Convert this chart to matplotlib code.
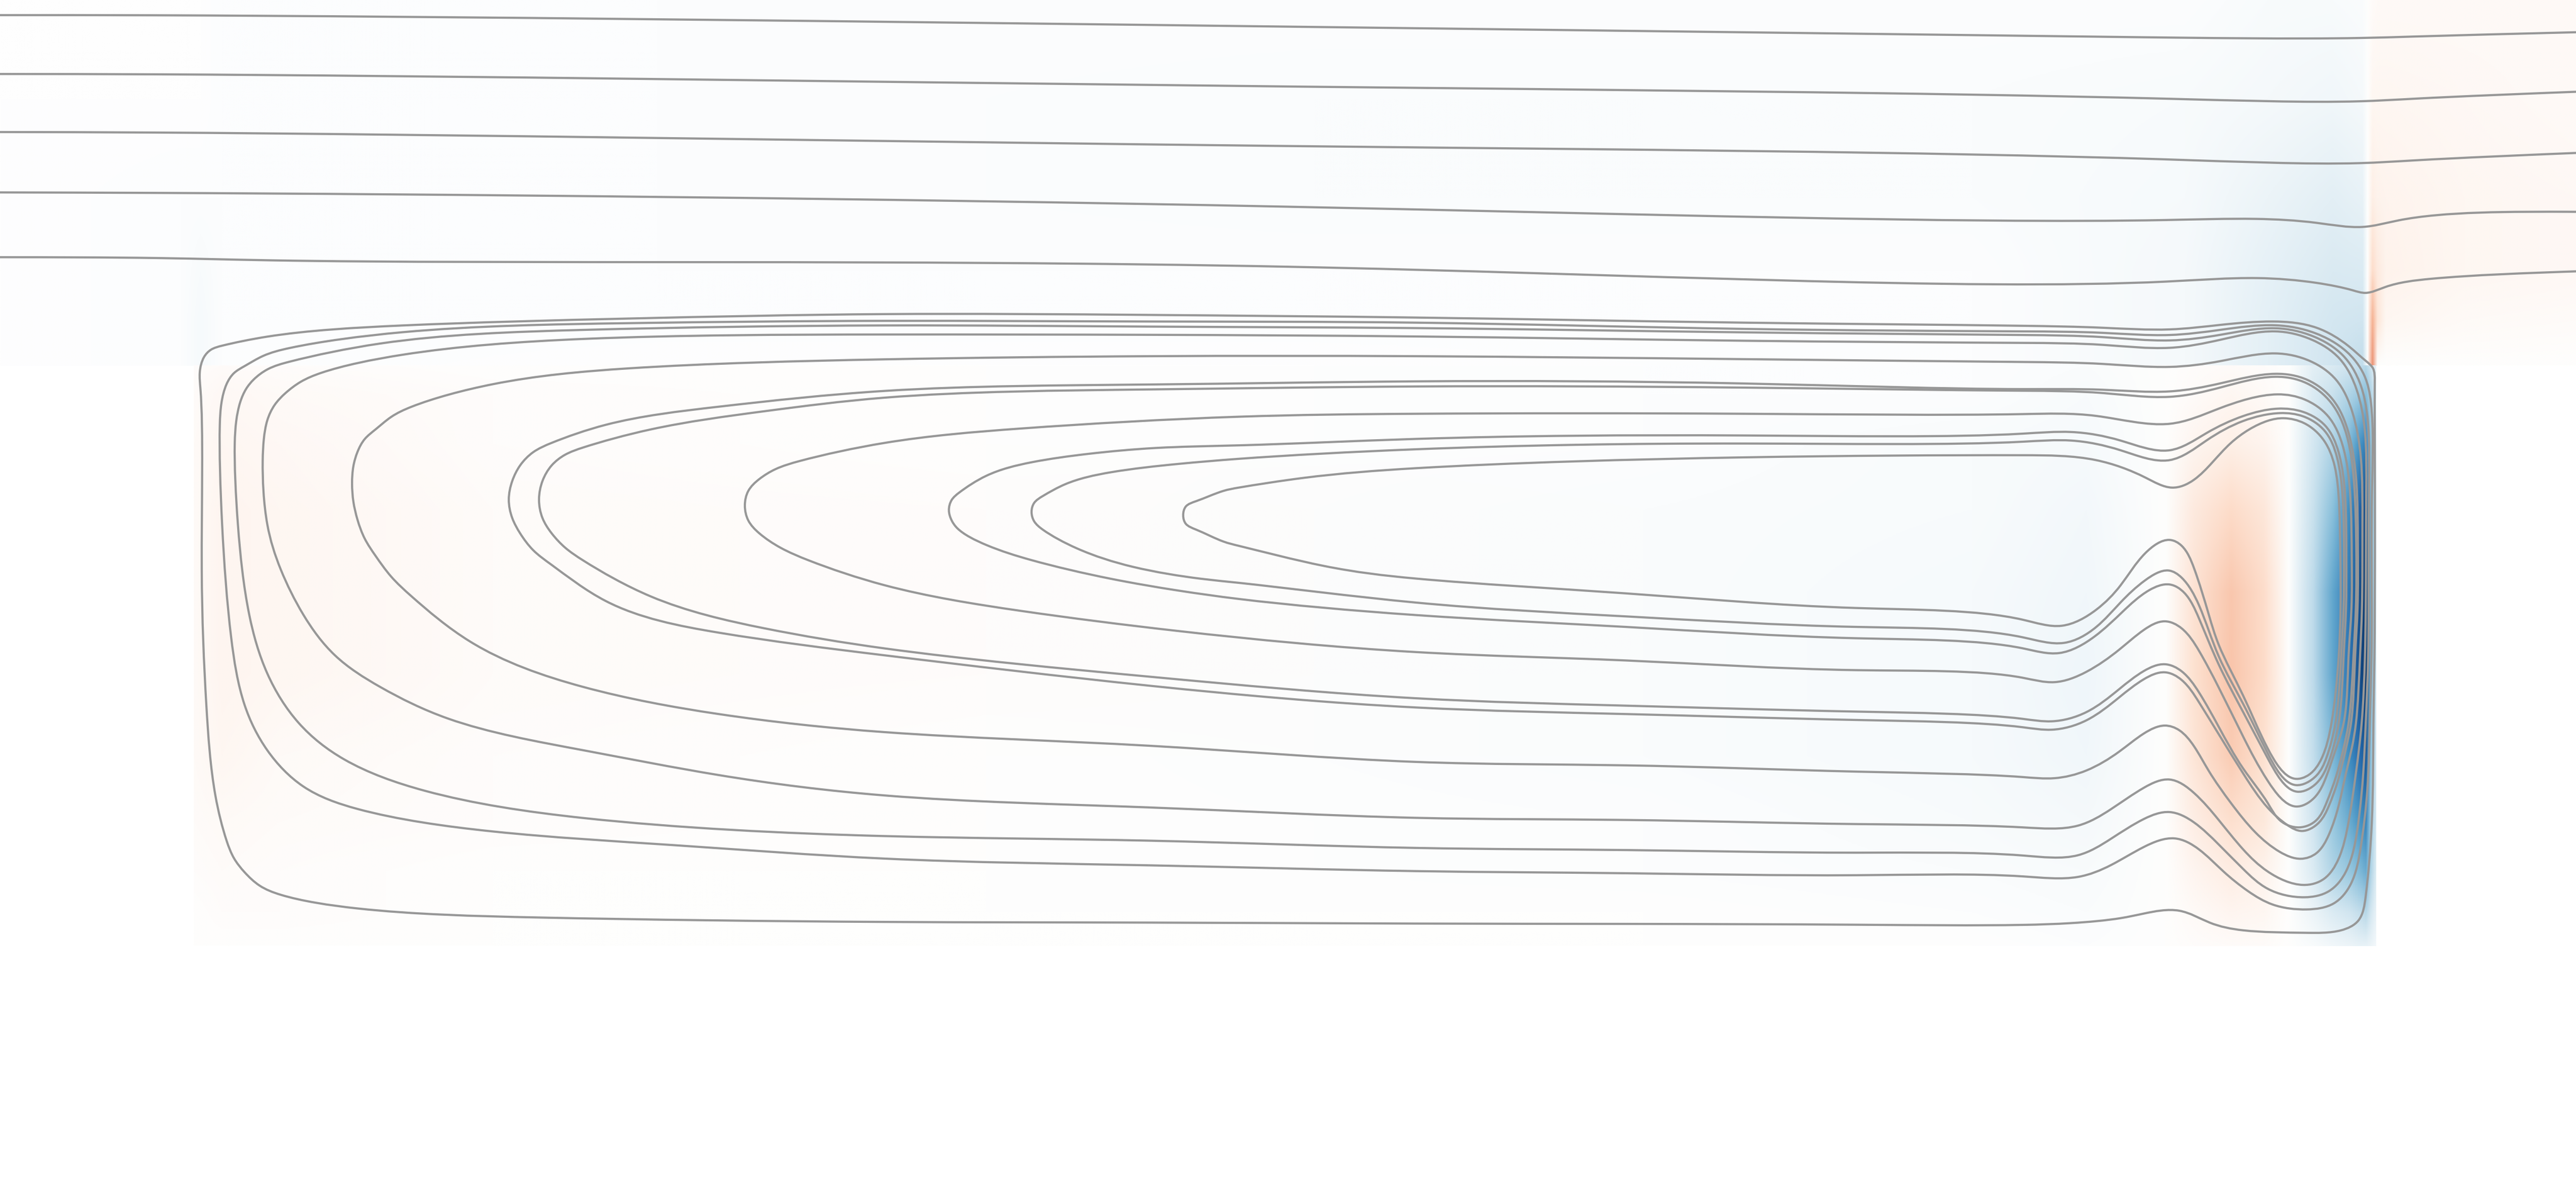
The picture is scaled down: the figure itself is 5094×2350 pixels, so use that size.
import numpy as np
import matplotlib
matplotlib.use('Agg')
import matplotlib.pyplot as plt
from matplotlib.path import Path
from matplotlib.patches import PathPatch, Rectangle
from matplotlib.colors import LinearSegmentedColormap, Normalize
from matplotlib.image import NonUniformImage

# 流线：上方通道 (x, 深度 y)，单位为图面坐标，y 向下
channel_1 = [(0, 9.2), (95, 9.3), (784, 16.2), (1284, 22.4), (1436, 23.1), (1470, 22.2), (1568, 19.6)]
channel_2 = [(0, 45.0), (95, 45.2), (784, 52.6), (1318, 60.0), (1436, 61.6), (1470, 60.0), (1568, 55.8)]
channel_3 = [(0, 80.3), (95, 80.6), (784, 88.8), (1318, 96.9), (1436, 99.2), (1470, 97.5), (1568, 93.0)]
channel_4 = [(0, 117.0), (95, 117.3), (784, 125.7), (1318, 133.8), (1373, 133.1), (1410, 135.5),
             (1438, 138.0), (1460, 134.0), (1568, 128.8)]
channel_5 = [(0, 156.4), (95, 156.9), (165, 158.3), (784, 162.2), (1319, 171.2), (1374, 169.1),
             (1410, 172.0), (1432, 176.5), (1440, 178.1), (1452, 174.5), (1480, 169.5), (1568, 165.0)]

# 空腔内闭合流线（由外到内）
loop_01 = [(122.0, 236.3), (121.6, 226.5), (124.2, 217.1), (128.5, 212.6), (135.2, 210.2), (162.7, 204.7),
           (245.1, 197.9), (382.5, 193.7), (538.6, 191.0), (700, 191.5), (862, 193.1), (1062, 196.2),
           (1231.1, 198.1), (1280, 199.3), (1320.6, 200.3), (1352, 197.5), (1383.3, 195.5),
           (1410.1, 199.3), (1429.5, 210.4), (1440.0, 219.4), (1444.4, 223.9), (1445.5, 232),
           (1445.6, 300), (1445.5, 370), (1445.3, 400), (1444.7, 440), (1443.7, 500.1), (1440.0, 544.9),
           (1435.5, 559.8), (1425.0, 565.7), (1402.7, 567.2), (1365.4, 565.7), (1345, 561),
           (1326.6, 553.8), (1305, 555.5), (1290.8, 558.3), (1260.9, 561.3), (1231.1, 562.4),
           (1130, 562.3), (990, 561.8), (862, 561.6), (700, 561.0), (538.6, 560.6), (327.5, 557.9),
           (217.6, 552.4), (170.9, 544.1), (158, 538.5), (148.9, 530.4), (142.5, 522), (137.9, 511.1),
           (131.1, 483.7), (125.6, 428.7), (122.8, 346.3)]
loop_02 = [(133.8, 258.3), (134.8, 245), (137.9, 233.6), (142.5, 226.8), (148.9, 222.6), (160, 216.5),
           (176.4, 211.6), (245.1, 202.0), (382.5, 196.5),
           (538.6, 195.1), (700, 195.5), (862, 196.2), (1062, 200), (1231.1, 201.5), (1280, 202.4),
           (1320.6, 203.7), (1352, 200.5), (1385, 197.8), (1409, 202.5), (1428, 213.5), (1439, 228),
           (1443.2, 245), (1443.8, 300), (1443.7, 370), (1443.5, 400), (1442.5, 440), (1441, 480),
           (1437.0, 515.0), (1431.0, 537.4), (1420.6, 549.3), (1404.2, 553.0), (1383.3, 550.0),
           (1368.4, 541.9), (1353.4, 529.9), (1338.5, 516.5), (1323.6, 509.8), (1305, 515),
           (1285, 526), (1265, 533.2), (1231.1, 532.9), (1130, 532.2), (990, 531.0), (862, 529.7),
           (700, 526.2), (538.6, 522.1), (410.0, 513.9), (300.1, 505.6), (217.6, 491.9),
           (184.6, 478.2), (162.7, 456.2), (148.9, 428.7), (140.7, 387.5), (135.2, 318.8)]
loop_03 = [(142.9, 269.3), (143.8, 256), (146.2, 244.6), (149.8, 236.5), (154.4, 230.8), (163, 224.5),
           (176.4, 219.9), (231.4, 208.9), (355.0, 200.6),
           (538.6, 197.9), (700, 198.6), (862, 199.5), (1062, 202.1), (1231.1, 203.7), (1280, 205.0),
           (1320.6, 207.0), (1352, 203.5), (1385, 199.6), (1408, 204.5), (1426, 216), (1436.5, 233),
           (1441.2, 255), (1442, 300), (1441.8, 370), (1441.5, 400), (1440, 440), (1438.5, 470),
           (1435.5, 500.1), (1428.0, 529.9), (1417.6, 541.9), (1402.7, 545.6), (1380.3, 540.4),
           (1365.4, 528.4), (1350.5, 513.5), (1335.5, 500.1), (1320.6, 493.8), (1305, 498), (1285, 510),
           (1265, 520), (1231.1, 520.2), (1130, 518.5), (990, 516.9), (862, 515.6), (700, 511.2),
           (538.6, 508.4), (355.0, 497.4), (258.8, 480.9), (209.4, 461.7), (181.9, 439.7),
           (162.7, 409.5), (151.7, 373.7), (144.8, 318.8)]
loop_04 = [(159.9, 280.3), (160.6, 267), (162.7, 255.6), (167.2, 246.2), (173.7, 239.1), (183, 232.2),
           (195.6, 226.7), (245.1, 215.7), (355.0, 206.1),
           (538.6, 203.4), (700, 203.6), (862, 204.6), (1062, 207.2), (1231.1, 208.5), (1280, 209.7),
           (1320.6, 211.5), (1352, 206.5), (1385, 201.5), (1407, 206.5), (1424, 218), (1434.5, 237),
           (1439.5, 262), (1440.3, 300), (1440, 370), (1439.5, 400), (1437.5, 440), (1434, 470.3),
           (1429.5, 500.1), (1423.5, 522.2), (1414.6, 534.4), (1401.9, 538.1), (1380.3, 529.9),
           (1365.4, 516.5), (1350.5, 498.6), (1335.5, 482.2), (1320.6, 474.0), (1305, 479), (1285, 492),
           (1265, 502), (1231.1, 503.1), (1130, 501.1), (990, 498.6), (862, 497.3), (700, 491.0),
           (538.6, 483.7), (437.5, 471.3), (355.0, 456.2), (272.6, 436.9), (231.4, 417.7),
           (203.9, 398.5), (184.6, 373.7), (170.9, 346.3), (162.7, 318.8)]
loop_05 = [(214.3, 294.0), (215.1, 283.5), (217.6, 274.8), (222, 267), (228.6, 261.1), (238, 253.6),
           (250.6, 247.3), (300.1, 233.6), (382.5, 224.0),
           (538.6, 218.5), (700, 216.6), (862, 216.6), (1062, 218.4), (1231.1, 220.1), (1280, 221.3),
           (1320.6, 223.1), (1352, 219.5), (1385, 214.9), (1406, 219.5), (1422, 231), (1432, 251),
           (1437, 278), (1438, 320), (1437.7, 370), (1436.5, 400), (1434, 440), (1431.5, 455),
           (1428, 470), (1423.5, 490), (1417.6, 507.5), (1410.1, 518.7), (1400.4, 522.2),
           (1387.7, 518.0), (1372.8, 506.1), (1357.9, 488.2), (1344.5, 468.8), (1335.5, 453.8),
           (1326.6, 444.1), (1317.6, 441.2), (1305, 446), (1290, 457), (1270, 468.5), (1250.5, 473.2),
           (1231.1, 472.5), (1130, 469.2), (990, 465.4), (862, 463.3), (700, 453.5), (538.6, 445.2),
           (437.5, 434.2), (355.0, 417.7), (286.3, 390.2), (250.6, 362.7), (238, 350.5), (228.6, 338.0),
           (222, 327.5), (217.6, 316.0), (215.1, 305)]
loop_06 = [(309.7, 303.7), (311.8, 292.5), (316.6, 283.0), (324.5, 275), (335.8, 269.3), (368.8, 258.3),
           (437.5, 247.3),
           (538.6, 237.7), (700, 233.8), (862, 231.9), (1062, 233.2), (1231.1, 236.6), (1280, 237),
           (1320.6, 238.0), (1352, 233), (1385, 227.3), (1404.5, 231), (1420, 243), (1429.5, 263),
           (1434.3, 293), (1435.2, 330), (1435, 370), (1433.5, 400), (1431, 440), (1428, 455),
           (1423, 475), (1417.6, 490), (1411.6, 500.1), (1401.2, 505.3), (1392.2, 501.6),
           (1380.3, 491.1), (1365.4, 470.3), (1350.5, 446.4), (1338.5, 427.0), (1328.1, 413.6),
           (1317.6, 408.8), (1305, 413), (1290, 424), (1270, 438), (1249, 443.7), (1231.1, 442.2),
           (1130, 437.8), (990, 434.2), (862, 430.2), (700, 417), (538.6, 398.5), (437.5, 384.7),
           (368.8, 365.5), (335.8, 343.5), (324.5, 334.5), (316.6, 324.3), (311.8, 315)]
loop_07 = [(328.1, 303.7), (330.2, 292.5), (335.8, 283.0), (344, 276.5), (355.0, 272.1), (396.2, 261.1),
           (465.0, 250.1),
           (538.6, 241.8), (700, 236.8), (862, 235.0), (1062, 235.7), (1231.1, 237.6), (1280, 239),
           (1320.6, 241.3), (1352, 235.5), (1385, 229.1), (1404, 233), (1419, 245), (1428.5, 265),
           (1433, 295), (1434.2, 330), (1434, 370), (1432.5, 400), (1429.5, 440), (1426.5, 455),
           (1422, 472), (1416.1, 488.2), (1410.1, 498.6), (1399.7, 503.1), (1388, 499), (1380.3, 488.2),
           (1365.4, 467.3), (1350.5, 441.9), (1338.5, 421.0), (1328.1, 408.3), (1317.6, 403.9),
           (1305, 408), (1290, 419), (1270, 433), (1249, 438.6), (1231.1, 437.1), (1130, 432.7),
           (990, 429.1), (862, 424.6), (700, 411.5), (538.6, 394.3), (465.0, 382.0), (396.2, 362.7),
           (355.0, 340.8), (344, 333), (335.8, 324.3), (330.2, 315)]
loop_08 = [(453.4, 307.5), (455.5, 298.5), (462.2, 291.3), (472, 285.3), (486.9, 280.3), (538.6, 269.3),
           (621.0, 260.6),
           (754.0, 253.4), (861.8, 251.6), (1062, 251.6), (1231.1, 251.8), (1275.9, 252.9),
           (1320.6, 257.7), (1350.5, 248.5), (1386.3, 239.8), (1403, 243), (1417, 253), (1426, 271),
           (1430.5, 300), (1431.5, 340), (1431.3, 370), (1429.5, 400), (1426.5, 440), (1422, 455),
           (1416.1, 472), (1408.6, 485.2), (1397.4, 490.4), (1380.3, 474.7), (1365.4, 447.9),
           (1350.5, 418.0), (1338.5, 395.7), (1328.1, 382.2), (1317.6, 377.8), (1305, 383),
           (1290, 395), (1270, 408.5), (1250.5, 414.8), (1231.1, 412.1), (1130, 407.5), (989.4, 401.6),
           (861.8, 396.5), (717.2, 383.7), (621.0, 371.4), (538.6, 355.9), (492.4, 340.8),
           (475, 333), (462.2, 324.3), (455.5, 316.5)]
loop_09 = [(577.6, 310.4), (579.3, 304.0), (583.9, 299.5), (600.4, 289.3), (627.9, 281.1), (662.3, 276.0),
           (703.5, 272.4), (754.0, 270.8), (861.8, 266.9), (1062, 264.8), (1231.1, 263.7),
           (1260.9, 262.7), (1290.8, 267.9), (1320.6, 273.8), (1343, 263.4), (1365.4, 253),
           (1386.3, 248.5), (1402, 250.5), (1415.5, 259), (1423.5, 275), (1427.5, 302), (1428.2, 340),
           (1428, 370), (1426.5, 400), (1423.5, 440), (1417.6, 463), (1410.1, 476.2), (1398.2, 481.4),
           (1380.3, 461), (1365.4, 433), (1350.5, 404), (1338.5, 376), (1329.6, 360.5), (1320.6, 355.4),
           (1308, 359), (1292, 372), (1275, 387), (1253.5, 397.1), (1231.1, 394.2), (1130, 388.1),
           (989.4, 381.2), (861.8, 374.0), (754.0, 364.2), (717.2, 359.1), (676.0, 351.9),
           (627.9, 340.6), (600.4, 331.4), (582.6, 321.1), (579.3, 316.5)]
loop_10 = [(627.9, 311.3), (629.5, 305.8), (634.8, 301.6), (648.5, 294.4), (676.0, 287.2), (717.2, 282.1),
           (754.0, 279.0), (861.8, 273.2), (1062, 269.7), (1231.1, 268.6), (1260.9, 267.9),
           (1290.8, 273.8), (1320.6, 279.8), (1343, 267.9), (1365.4, 256), (1387.7, 251.2),
           (1402, 253.2), (1415, 262), (1422.5, 278), (1426, 303), (1426.8, 340), (1426.5, 370),
           (1425, 400), (1421.5, 440), (1416, 461), (1410.1, 471.5), (1397.4, 477.4), (1380.3, 458),
           (1365.4, 428), (1350.5, 399), (1338.5, 368), (1328.1, 351.4), (1319.9, 346.9),
           (1305.7, 352.9), (1290.8, 366.3), (1275.9, 381.3), (1256.5, 390.9), (1231.1, 387.5),
           (1129.7, 381.2), (989.4, 374.8), (861.8, 366.4), (754.0, 354.4), (730.9, 351.9),
           (689.7, 344.7), (655.4, 333.4), (634.8, 322.1), (629.5, 317.0)]
loop_11 = [(720.2, 313.4), (721.8, 308.0), (728.2, 304.7), (744.7, 298.5), (754.0, 296.5), (793.4, 290.6),
           (861.8, 284.7), (1062, 278.1), (1231.1, 276.8), (1275.9, 279.8), (1305.7, 290.3),
           (1322.1, 296.5), (1335.5, 291.7), (1357.9, 269.4), (1380.3, 255.9), (1390, 254.3),
           (1402.7, 257.4), (1414.6, 267.9), (1421, 283), (1423.8, 306.7), (1424.6, 340),
           (1424.7, 370), (1423.5, 400), (1419.1, 440), (1413.1, 461.3), (1405.6, 471.0),
           (1396.7, 473.5), (1380.3, 455), (1365.4, 423), (1350.5, 392), (1344.5, 373.8),
           (1335.5, 345.5), (1328.1, 332.0), (1320.6, 328.3), (1305.7, 336.5), (1290.8, 355.9),
           (1275.9, 370.8), (1255.0, 380.5), (1231.1, 376.8), (1129.7, 369.7), (989.4, 360.8),
           (861.8, 351.8), (806.2, 344.2), (754.0, 331.9), (744.7, 329.3), (728.2, 322.1), (721.8, 318.5)]

# 涡量场：通道部分
ch_x = [0, 110, 122, 135, 400, 800, 1200, 1330, 1380, 1420, 1438, 1441, 1444, 1447, 1452, 1500, 1568]
ch_y = [0, 60, 120, 165, 195, 222]
ch_val = [
    [-0.005, -0.005, -0.005, -0.01, -0.012, -0.014, -0.014, -0.015, -0.025, -0.03, -0.02, 0.0, 0.02, 0.025, 0.025, 0.025, 0.025],
    [-0.005, -0.005, -0.005, -0.01, -0.014, -0.016, -0.016, -0.025, -0.045, -0.06, -0.04, 0.0, 0.04, 0.045, 0.045, 0.035, 0.03],
    [-0.005, -0.01, -0.015, -0.014, -0.014, -0.016, -0.016, -0.035, -0.085, -0.12, -0.10, 0.0, 0.08, 0.07, 0.055, 0.045, 0.035],
    [-0.005, -0.015, -0.025, -0.014, -0.01, -0.012, -0.014, -0.045, -0.105, -0.16, -0.15, 0.0, 0.18, 0.11, 0.065, 0.045, 0.035],
    [-0.005, -0.015, -0.035, -0.014, -0.008, -0.008, -0.012, -0.04, -0.11, -0.18, -0.20, 0.0, 0.35, 0.14, 0.045, 0.03, 0.02],
    [-0.003, -0.015, -0.035, -0.012, -0.004, -0.004, -0.008, -0.04, -0.11, -0.20, -0.25, 0.0, 0.45, 0.0, 0.0, 0.0, 0.0],
]
# 涡量场：空腔部分
cav_x = [118, 135, 170, 300, 600, 1000, 1200, 1270, 1318, 1335, 1358, 1378, 1393, 1408, 1420, 1430, 1436, 1440, 1443, 1446]
cav_y = [222, 240, 270, 310, 360, 410, 460, 500, 530, 555, 575]
cav_val = [
    [0.01, 0.02, 0.015, 0.005, 0.0, -0.01, -0.015, -0.02, 0.0, 0.01, 0.02, 0.015, 0.0, -0.12, -0.16, -0.20, -0.24, -0.28, -0.20, -0.10],
    [0.02, 0.035, 0.025, 0.01, 0.005, -0.01, -0.015, -0.025, 0.0, 0.02, 0.04, 0.03, 0.0, -0.15, -0.22, -0.30, -0.36, -0.42, -0.30, -0.15],
    [0.03, 0.045, 0.035, 0.015, 0.005, -0.015, -0.025, -0.035, 0.0, 0.05, 0.08, 0.06, 0.0, -0.18, -0.30, -0.45, -0.58, -0.68, -0.40, -0.20],
    [0.03, 0.05, 0.04, 0.02, 0.01, -0.02, -0.03, -0.05, 0.0, 0.11, 0.19, 0.13, 0.0, -0.22, -0.42, -0.62, -0.80, -0.90, -0.45, -0.22],
    [0.03, 0.05, 0.04, 0.02, 0.01, -0.02, -0.035, -0.06, 0.0, 0.15, 0.27, 0.18, 0.0, -0.26, -0.52, -0.72, -0.88, -0.97, -0.45, -0.22],
    [0.03, 0.05, 0.04, 0.02, 0.01, -0.02, -0.035, -0.065, 0.0, 0.16, 0.28, 0.19, 0.0, -0.26, -0.52, -0.72, -0.88, -0.97, -0.45, -0.22],
    [0.025, 0.04, 0.03, 0.015, 0.005, -0.02, -0.035, -0.06, 0.0, 0.14, 0.25, 0.16, 0.0, -0.24, -0.45, -0.62, -0.76, -0.85, -0.40, -0.20],
    [0.02, 0.03, 0.02, 0.01, 0.005, -0.015, -0.03, -0.045, 0.0, 0.09, 0.17, 0.12, 0.0, -0.20, -0.38, -0.50, -0.58, -0.65, -0.35, -0.18],
    [0.01, 0.02, 0.015, 0.005, 0.0, -0.01, -0.02, -0.03, 0.0, 0.05, 0.10, 0.07, 0.0, -0.15, -0.30, -0.38, -0.44, -0.50, -0.30, -0.15],
    [0.005, 0.01, 0.01, 0.0, 0.0, -0.005, -0.01, -0.02, 0.0, 0.03, 0.05, 0.04, 0.0, -0.08, -0.15, -0.20, -0.24, -0.28, -0.18, -0.10],
    [0.0, 0.0, 0.0, 0.0, 0.0, 0.0, -0.005, -0.01, 0.0, 0.01, 0.02, 0.02, 0.0, -0.03, -0.06, -0.08, -0.10, -0.10, -0.08, -0.05],
]


def get_cmap():
    cols = ['#053061', '#2166ac', '#4393c3', '#92c5de', '#d1e5f0', '#ffffff',
            '#fddbc7', '#f4a582', '#d6604d', '#b2182b', '#67001f']
    return LinearSegmentedColormap.from_list('rdbu_white', cols)


def spline_path(points, closed=False, alpha=0.8):
    """过各点的三次样条（闭合为周期样条），转成贝塞尔路径；y 翻转为向上"""
    P = np.asarray(points, dtype=float) * np.array([1.0, -1.0])
    n = len(P)
    A = np.zeros((n, n))
    R = np.zeros((n, 2))
    if closed:
        h = np.linalg.norm(np.roll(P, -1, axis=0) - P, axis=1) ** alpha
        for i in range(n):
            hm, hp = h[i - 1], h[i]
            A[i, (i - 1) % n] += hm
            A[i, i] += 2 * (hm + hp)
            A[i, (i + 1) % n] += hp
            R[i] = 6 * ((P[(i + 1) % n] - P[i]) / hp - (P[i] - P[i - 1]) / hm)
        segs = range(n)
    else:
        h = np.linalg.norm(np.diff(P, axis=0), axis=1) ** alpha
        A[0, 0] = A[-1, -1] = 1.0
        for i in range(1, n - 1):
            A[i, i - 1] = h[i - 1]
            A[i, i] = 2 * (h[i - 1] + h[i])
            A[i, i + 1] = h[i]
            R[i] = 6 * ((P[i + 1] - P[i]) / h[i] - (P[i] - P[i - 1]) / h[i - 1])
        segs = range(n - 1)
    M = np.linalg.solve(A, R)
    verts = [P[0]]
    codes = [Path.MOVETO]
    for i in segs:
        j = (i + 1) % n
        hi = h[i]
        d0 = (P[j] - P[i]) / hi - hi * (2 * M[i] + M[j]) / 6
        d1 = (P[j] - P[i]) / hi + hi * (M[i] + 2 * M[j]) / 6
        verts += [P[i] + hi * d0 / 3, P[j] - hi * d1 / 3, P[j]]
        codes += [Path.CURVE4] * 3
    return Path(verts, codes)


def draw_field(ax, xs, ys, vals, cmap):
    """非均匀网格双线性填色"""
    y_up = -np.asarray(ys, dtype=float)[::-1]
    v_up = np.asarray(vals, dtype=float)[::-1]
    im = NonUniformImage(ax, interpolation='bilinear', cmap=cmap, norm=Normalize(-1, 1))
    im.set_data(np.asarray(xs, dtype=float), y_up, v_up)
    clip = Rectangle((xs[0], y_up[0]), xs[-1] - xs[0], y_up[-1] - y_up[0],
                     transform=ax.transData)
    im.set_clip_path(clip)
    im.set_zorder(1)
    ax.add_image(im)


fig = plt.figure(figsize=(50.94, 23.5), dpi=100)
ax = fig.add_axes([0, 0, 1, 1])
ax.set_xlim(0, 1568)
ax.set_ylim(-723, 0)
ax.axis('off')

cmap = get_cmap()
draw_field(ax, ch_x, ch_y, ch_val, cmap)
draw_field(ax, cav_x, cav_y, cav_val, cmap)

line_kw = dict(facecolor='none', edgecolor='#979797', linewidth=3.1, zorder=3)
for line in [channel_1, channel_2, channel_3, channel_4, channel_5]:
    ax.add_patch(PathPatch(spline_path(line, closed=False), **line_kw))

loops = [loop_01, loop_02, loop_03, loop_04, loop_05, loop_06,
         loop_07, loop_08, loop_09, loop_10, loop_11]
for lp in loops:
    ax.add_patch(PathPatch(spline_path(lp, closed=True), **line_kw))

fig.savefig('out.png', dpi=100)
